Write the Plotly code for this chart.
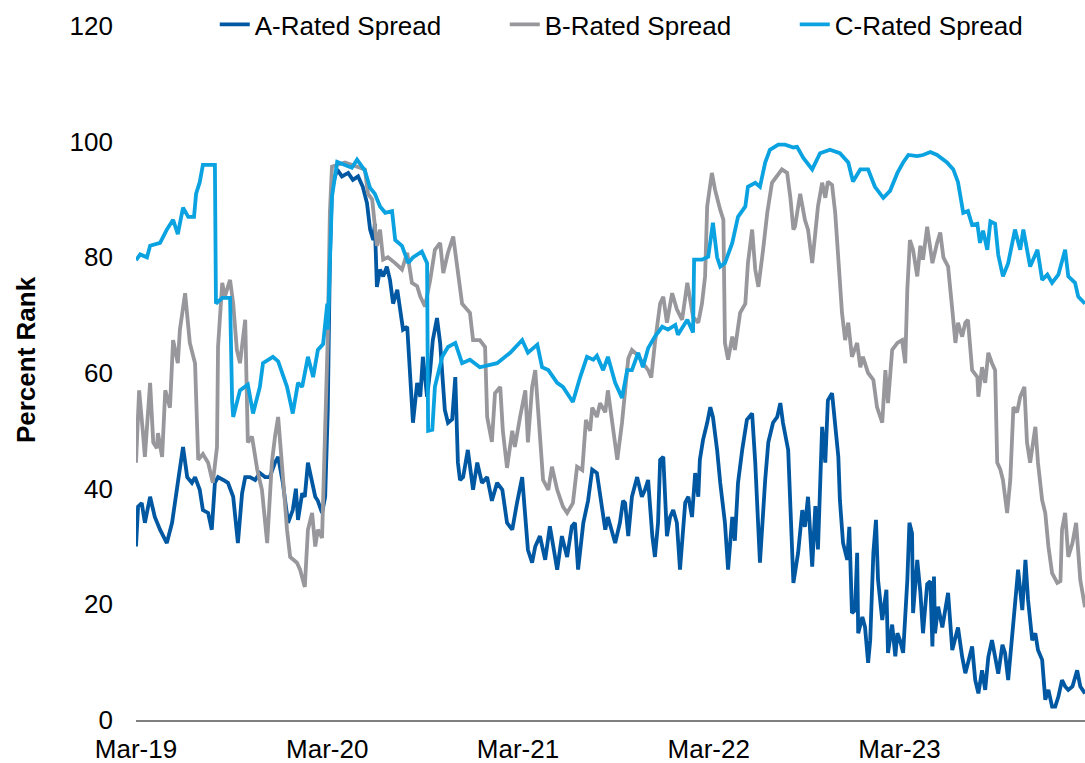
import plotly.graph_objects as go

# ---------------- data ----------------
a_dates = ["2019-03-01","2019-03-05","2019-03-12","2019-03-18","2019-03-28","2019-04-06","2019-04-16","2019-04-22","2019-04-29","2019-05-09","2019-05-15","2019-05-20","2019-05-30","2019-06-07","2019-06-16","2019-06-22","2019-07-01","2019-07-07","2019-07-17","2019-07-24","2019-07-30","2019-08-05","2019-08-15","2019-08-24","2019-09-03","2019-09-12","2019-09-20","2019-09-26","2019-10-05","2019-10-15","2019-10-24","2019-11-03","2019-11-12","2019-11-22","2019-11-28","2019-12-07","2019-12-17","2019-12-26",
"2020-01-01","2020-01-05","2020-01-13","2020-01-18","2020-01-24","2020-02-01","2020-02-07","2020-02-12","2020-02-20","2020-02-26","2020-03-02","2020-03-06","2020-03-10","2020-03-20","2020-03-29","2020-04-10","2020-04-19","2020-04-29","2020-05-08","2020-05-16","2020-05-22","2020-05-28","2020-05-31","2020-06-04","2020-06-10","2020-06-16","2020-06-23","2020-06-29","2020-07-05","2020-07-13","2020-07-18","2020-07-24","2020-08-01","2020-08-06","2020-08-12","2020-08-20","2020-08-26","2020-08-31","2020-09-08","2020-09-14","2020-09-19","2020-09-27","2020-10-03","2020-10-07","2020-10-12","2020-10-18","2020-10-26","2020-11-01","2020-11-06","2020-11-10","2020-11-16","2020-11-25","2020-12-05","2020-12-13","2020-12-22",
"2021-01-01","2021-01-10","2021-01-20","2021-01-30","2021-02-08","2021-02-18","2021-02-27","2021-03-09","2021-03-15","2021-03-20","2021-03-28","2021-04-03","2021-04-12","2021-04-22","2021-05-01","2021-05-07","2021-05-15","2021-05-24","2021-06-03","2021-06-12","2021-06-18","2021-06-24","2021-07-04","2021-07-13","2021-07-21","2021-07-30","2021-08-05","2021-08-15","2021-08-20","2021-08-28","2021-09-03","2021-09-12","2021-09-18","2021-09-22","2021-09-28","2021-10-05","2021-10-15","2021-10-24","2021-10-30","2021-11-05","2021-11-13","2021-11-18","2021-11-24","2021-11-28","2021-12-04","2021-12-11","2021-12-17","2021-12-23","2021-12-30",
"2022-01-05","2022-01-15","2022-01-21","2022-01-28","2022-02-03","2022-02-09","2022-02-12","2022-02-18","2022-02-26","2022-03-04","2022-03-09","2022-03-17","2022-03-23","2022-04-01","2022-04-07","2022-04-15","2022-04-20","2022-04-26","2022-05-04","2022-05-13","2022-05-23","2022-05-29","2022-06-04","2022-06-07","2022-06-17","2022-06-23","2022-07-02","2022-07-10","2022-07-16","2022-07-21","2022-07-31","2022-08-04","2022-08-10","2022-08-19","2022-08-27","2022-09-01","2022-09-07","2022-09-15","2022-09-21","2022-09-26","2022-10-04","2022-10-10","2022-10-15","2022-10-23","2022-10-29","2022-11-04","2022-11-07","2022-11-13","2022-11-21","2022-11-25","2022-11-30","2022-12-06","2022-12-10","2022-12-12","2022-12-20","2022-12-25","2022-12-31",
"2023-01-04","2023-01-10","2023-01-15","2023-01-19","2023-01-27","2023-02-04","2023-02-07","2023-02-15","2023-02-21","2023-02-25","2023-03-02","2023-03-08","2023-03-16","2023-03-20","2023-03-25","2023-03-27","2023-04-04","2023-04-10","2023-04-15","2023-04-23","2023-04-29","2023-05-03","2023-05-06","2023-05-08","2023-05-14","2023-05-22","2023-05-27","2023-06-02","2023-06-10","2023-06-16","2023-06-21","2023-06-29","2023-07-05","2023-07-10","2023-07-18","2023-07-24","2023-07-30","2023-08-06","2023-08-12","2023-08-18","2023-08-25","2023-08-31","2023-09-06","2023-09-14","2023-09-19","2023-09-25","2023-10-03","2023-10-08","2023-10-14","2023-10-22","2023-10-28","2023-11-02","2023-11-10","2023-11-16","2023-11-21","2023-11-29","2023-12-05","2023-12-11","2023-12-18","2023-12-24","2023-12-30",
"2024-01-06","2024-01-12","2024-01-18","2024-01-26","2024-02-04","2024-02-10","2024-02-19"]
a_values = [30,36.9,37.5,34.1,38.6,35.1,32.9,31.8,30.6,34.1,37.5,41,47.2,42,41,42,39.8,36.3,35.8,32.9,41,42,41.5,41,38.6,30.6,39.2,42,42,41.5,42.7,42,42,44.5,45.5,41,34.1,36.3,
40,34.6,39.2,38.6,44.5,41,38.6,37.9,35.8,38.6,53.6,79.6,92.2,95.2,94,94.6,93.4,94,92.2,89.4,84.8,83,85.8,74.9,77.9,76.7,78.4,76.1,72,74.4,71.5,67.5,68,60.5,51.4,58.3,55.9,62.8,55.9,60.5,65.7,69.5,65.2,60,53.6,51.4,52,59.3,44.5,41.5,42,46.7,39.8,44.5,41,
42,37.9,41,39.8,34.1,32.9,37.5,42,35.1,29.4,27.2,30,31.8,27.7,33.5,30,26,31.8,28.2,33.5,34.1,26,34.1,37.9,43.3,42.7,38.6,32.9,35.1,32.3,30.6,34.1,37.9,37.5,31.8,38.6,42,38.6,39.8,41.5,31.8,28.2,34.1,45,45.5,31.8,35.1,36.3,34.1,
26,37.6,38.6,35.1,42.7,38.6,45,48.4,51.4,54.1,52.4,46.7,41,34.1,26,35.1,31,41,46.7,51.9,53,44.5,32.9,27.2,41.5,48,51.4,52.4,54.8,51.4,46.7,38.6,23.7,28.9,36.3,33.4,38.6,26.5,37,29.5,50.7,44.5,55.3,56.5,51.4,45.5,38,30.6,27.7,33.4,18.5,19,28.9,15,17.8,16.1,9.9,
13.8,28.9,34.6,24.2,17.3,22.5,11.6,16.5,11,15,13.8,11.6,24.2,34.1,32.3,18.5,27.7,22,15,23.5,24,12.7,24.8,15,19.6,16,19,22,12.1,14.4,16,10.9,8.1,9.8,12.7,6.9,4.6,8.6,5.2,10.9,13.8,10.9,8,13,11.6,6.9,15,20.8,26,19,27.7,20.8,13.8,15,12.1,10.4,3.5,5.2,2.3,2.3,4,
6.9,5.8,5.2,5.8,8.6,5.8,4.6]

b_dates = ["2019-03-01","2019-03-07","2019-03-14","2019-03-18","2019-03-28","2019-04-03","2019-04-10","2019-04-12","2019-04-20","2019-04-26","2019-05-05","2019-05-11","2019-05-20","2019-05-24","2019-06-03","2019-06-12","2019-06-22","2019-06-28","2019-07-07","2019-07-17","2019-07-26","2019-08-03","2019-08-05","2019-08-13","2019-08-18","2019-08-28","2019-09-03","2019-09-10","2019-09-16","2019-09-26","2019-10-01","2019-10-09","2019-10-19","2019-10-28","2019-11-07","2019-11-16","2019-11-22","2019-11-28","2019-12-05","2019-12-15","2019-12-21",
"2020-01-03","2020-01-09","2020-01-18","2020-01-24","2020-02-01","2020-02-07","2020-02-12","2020-02-20","2020-02-26","2020-03-02","2020-03-06","2020-03-10","2020-04-04","2020-04-29","2020-05-12","2020-05-18","2020-05-26","2020-06-04","2020-06-10","2020-06-16","2020-06-25","2020-07-09","2020-07-22","2020-08-01","2020-08-10","2020-08-20","2020-08-26","2020-09-04","2020-09-14","2020-09-23","2020-10-03","2020-10-09","2020-10-18","2020-10-28","2020-11-06","2020-11-14","2020-11-29","2020-12-05","2020-12-18","2020-12-28",
"2021-01-01","2021-01-10","2021-01-16","2021-01-26","2021-01-31","2021-02-08","2021-02-18","2021-02-23","2021-03-05","2021-03-15","2021-03-20","2021-03-28","2021-04-03","2021-04-12","2021-04-18","2021-04-28","2021-05-05","2021-05-15","2021-05-26","2021-06-03","2021-06-14","2021-06-22","2021-07-02","2021-07-09","2021-07-17","2021-07-21","2021-07-30","2021-08-05","2021-08-15","2021-08-20","2021-08-30","2021-09-07","2021-09-16","2021-09-22","2021-09-28","2021-10-05","2021-10-17","2021-10-26","2021-11-05","2021-11-11","2021-11-18","2021-11-28","2021-12-04","2021-12-11","2021-12-21","2021-12-30",
"2022-01-09","2022-01-19","2022-01-24","2022-01-30","2022-02-09","2022-02-16","2022-02-22","2022-02-26","2022-03-07","2022-03-13","2022-03-23","2022-03-29","2022-04-01","2022-04-07","2022-04-15","2022-04-20","2022-04-30","2022-05-10","2022-05-15","2022-05-23","2022-05-29","2022-06-04","2022-06-13","2022-06-21","2022-06-30","2022-07-10","2022-07-19","2022-07-29","2022-08-04","2022-08-10","2022-08-13","2022-08-23","2022-09-01","2022-09-07","2022-09-15","2022-09-21","2022-09-26","2022-10-04","2022-10-10","2022-10-15","2022-10-23","2022-10-29","2022-11-04","2022-11-11","2022-11-17","2022-11-23","2022-11-30","2022-12-10","2022-12-16","2022-12-21","2022-12-31",
"2023-01-10","2023-01-17","2023-01-27","2023-02-02","2023-02-07","2023-02-15","2023-02-25","2023-03-06","2023-03-12","2023-03-16","2023-03-21","2023-03-27","2023-04-04","2023-04-10","2023-04-15","2023-04-23","2023-05-03","2023-05-12","2023-05-18","2023-05-24","2023-06-02","2023-06-10","2023-06-16","2023-06-21","2023-06-29","2023-07-05","2023-07-10","2023-07-18","2023-07-28","2023-07-30","2023-08-06","2023-08-12","2023-08-18","2023-08-25","2023-08-31","2023-09-04","2023-09-10","2023-09-15","2023-09-23","2023-09-29","2023-10-05","2023-10-12","2023-10-18","2023-10-26","2023-10-31","2023-11-06","2023-11-16","2023-11-21","2023-11-29","2023-12-05","2023-12-11","2023-12-18","2023-12-28",
"2024-01-03","2024-01-06","2024-01-12","2024-01-18","2024-01-26","2024-02-02","2024-02-10","2024-02-19"]
b_values = [44.5,57,50,45.5,58.3,48,47,49.6,45.5,57,54,65.7,61.7,67.5,73.8,65.2,61.7,45,46,44.5,41,47.2,64.5,75.6,73.2,76.1,72,64,61.7,69.2,48,49,43.3,39.8,30.6,44.5,49,52.4,44.5,32.9,28.2,
27.2,26,23,32.9,35.8,30,32.9,31.5,51.4,66.3,87.7,95.7,96.4,95.7,95.2,91,90,82,84.8,79.6,80,79,77.9,80.8,75.6,75,73.2,71.5,76.1,81.3,82.5,77.3,80.8,83.6,77.9,72,70.4,65.7,65.7,64.5,
52.4,48.1,56.5,57.6,50,43.6,50,47.2,52.4,57,48,57.6,60.5,50,41.5,39.8,43.8,39.8,36.9,35.8,37.5,43.8,43.2,51.9,50,54,52.4,54.8,53.2,57,49.6,45,51.4,56.5,62.5,64,63,61.7,60.5,59.2,65.2,72,73.2,68.7,73.8,71,
69.2,75.6,73.2,69.7,68.7,72,76.7,88.8,94.6,91.7,88.2,86.5,65.2,62.3,66.3,64,70.4,72,79,84.8,77.9,74.9,81.3,87.7,92.9,94,95.2,94.6,90.5,84.8,85.3,91,86.5,84.8,79,84.3,88.8,92.9,90.3,93.1,92.5,87.7,79,70.4,65.7,68.7,62.8,65.2,61,62.8,60,
58.8,54.1,51.4,60.5,54.8,64,65.2,65.7,61.7,74.4,83,81.3,76.7,82,79.6,85.3,79,82.5,84.3,80,78.4,71,65.2,68.7,66.3,68.7,69.2,60.5,59.3,55.9,61,58.3,63.5,61.7,60.5,44.5,43.3,41.5,35.8,41.5,54.1,53.2,55.9,57.6,48,44.5,50.7,44.5,38,35.8,30,25.4,23.7,
24,32.9,35.8,28.2,30.6,34.1,24.2,19.5]

c_dates = ["2019-03-01","2019-03-09","2019-03-22","2019-03-28","2019-04-16","2019-04-29","2019-05-11","2019-05-20","2019-05-30","2019-06-09","2019-06-20","2019-06-24","2019-07-01","2019-07-07","2019-07-30","2019-08-01","2019-08-13","2019-08-28","2019-09-01","2019-09-03","2019-09-16","2019-10-01","2019-10-11","2019-10-24","2019-10-30","2019-11-18","2019-11-28","2019-12-15","2019-12-26",
"2020-01-05","2020-01-13","2020-01-24","2020-02-03","2020-02-12","2020-02-22","2020-03-01","2020-03-02","2020-03-10","2020-03-20","2020-04-04","2020-04-17","2020-04-27","2020-05-12","2020-05-22","2020-05-31","2020-06-10","2020-06-20","2020-07-03","2020-07-09","2020-07-22","2020-08-03","2020-08-12","2020-08-29","2020-09-08","2020-09-10","2020-09-18","2020-09-23","2020-10-07","2020-10-18","2020-11-01","2020-11-14","2020-11-29","2020-12-18",
"2021-01-20","2021-02-14","2021-03-09","2021-03-20","2021-04-07","2021-04-16","2021-04-28","2021-05-15","2021-05-26","2021-06-14","2021-06-28","2021-07-11","2021-07-23","2021-07-30","2021-08-11","2021-08-20","2021-09-03","2021-09-16","2021-09-26","2021-10-05","2021-10-17","2021-10-26","2021-11-05","2021-11-18","2021-12-02","2021-12-13","2021-12-27",
"2022-01-01","2022-01-19","2022-01-30","2022-02-01","2022-02-16","2022-02-28","2022-03-09","2022-03-17","2022-03-23","2022-04-01","2022-04-15","2022-04-26","2022-05-10","2022-05-15","2022-05-29","2022-06-07","2022-06-17","2022-06-26","2022-07-12","2022-07-25","2022-08-10","2022-08-17","2022-08-29","2022-09-15","2022-09-30","2022-10-19","2022-11-07","2022-11-23","2022-12-02","2022-12-16","2022-12-31",
"2023-01-13","2023-01-29","2023-02-11","2023-02-25","2023-03-08","2023-03-18","2023-04-04","2023-04-15","2023-04-29","2023-05-12","2023-05-31","2023-06-12","2023-06-21","2023-07-01","2023-07-10","2023-07-18","2023-07-28","2023-08-02","2023-08-08","2023-08-16","2023-08-22","2023-08-31","2023-09-06","2023-09-15","2023-09-25","2023-10-08","2023-10-18","2023-10-24","2023-11-06","2023-11-20","2023-11-29","2023-12-09","2023-12-18","2023-12-30",
"2024-01-12","2024-01-18","2024-01-31","2024-02-06","2024-02-19"]
c_values = [79.5,80.5,80,82,82.5,84.8,86.5,84,88.6,87,87,91,93,96,96,72,73,73,55,52.4,57,58,53,57.6,61.7,62.8,62,57.6,53,
58.3,57.6,62.8,59.3,64,65,72,67.5,90.5,96.5,96,95.5,96.9,95,92,91,88.8,87.7,88,83,82,79,80,81,79,50,50.2,57.6,62.8,64.5,65.2,61.7,62.3,61,
61.7,63.5,65.7,63.5,64.9,61,60.5,58.3,57.6,55,59.3,62.8,62.3,63,60.5,62.8,58.3,55.7,60.5,60.5,63.5,61,64.3,66.3,68,67.5,68.3,
66.6,69.2,67,79.6,79.6,80.1,86,80,78.4,79,82.5,87,88.8,92.2,92.9,92.2,96.4,98.6,99.5,99.5,99,99.1,97.2,95.2,98,98.6,98,96.4,93.1,95.2,95.2,
92.2,90.3,91.5,94.6,96.4,97.7,97.5,97.7,98.2,97.7,96.4,95.2,93,87.7,88,85.6,85.8,82.5,84.6,81.3,86.2,85.8,80.4,76.7,79,84.8,81.3,84.8,78.4,81.3,76.1,77,75.6,77,
81.3,76.7,75.6,73.2,72]

series_names = ["A-Rated Spread", "B-Rated Spread", "C-Rated Spread"]
series_colors = ["#0058A3", "#97979C", "#0AA2E0"]
x_tick_dates = ["2019-03-01", "2020-03-01", "2021-03-01", "2022-03-01", "2023-03-01"]
y_ticks = [0, 20, 40, 60, 80, 100, 120]
y_axis_top = 124.5   # axis range reaches a little above the 120 label

FONT = "Liberation Sans, Arial, sans-serif"

fig = go.Figure()
for name, xs, ys, col in zip(series_names, [a_dates, b_dates, c_dates],
                             [a_values, b_values, c_values], series_colors):
    fig.add_trace(go.Scatter(x=xs, y=ys, mode="lines", name=name,
                             line=dict(color=col, width=3.8)))

fig.update_layout(
    width=1085, height=763,
    margin=dict(l=136, r=0, t=0, b=43, autoexpand=False),
    paper_bgcolor="white", plot_bgcolor="white",
    font=dict(family=FONT, size=26, color="#000000"),
    showlegend=True,
    legend=dict(orientation="h", x=0.083, xanchor="left", y=0.966, yanchor="middle",
                font=dict(family=FONT, size=26, color="#000000"),
                bgcolor="rgba(0,0,0,0)", traceorder="normal",
                entrywidth=245),
)
fig.update_xaxes(
    type="date", range=["2019-03-01", "2024-02-19"],
    tickvals=x_tick_dates, tickformat="%b-%y",
    showgrid=False, zeroline=False, automargin=False,
    showline=True, linecolor="#808080", linewidth=2,
    ticks="", ticklabelstandoff=5,
    tickfont=dict(family=FONT, size=26, color="#000000"),
)
fig.update_yaxes(
    range=[0, y_axis_top], tickvals=y_ticks,
    showgrid=False, zeroline=False, showline=False, ticks="", automargin=False,
    ticklabelstandoff=22,
    tickfont=dict(family=FONT, size=26, color="#000000"),
    title=dict(text="<b>Percent Rank</b>", standoff=26,
               font=dict(family=FONT, size=26, color="#000000")),
)

fig.write_html("out.html",
               config={"displayModeBar": False},
               post_script="document.body.style.margin='0';document.body.style.padding='0';")
